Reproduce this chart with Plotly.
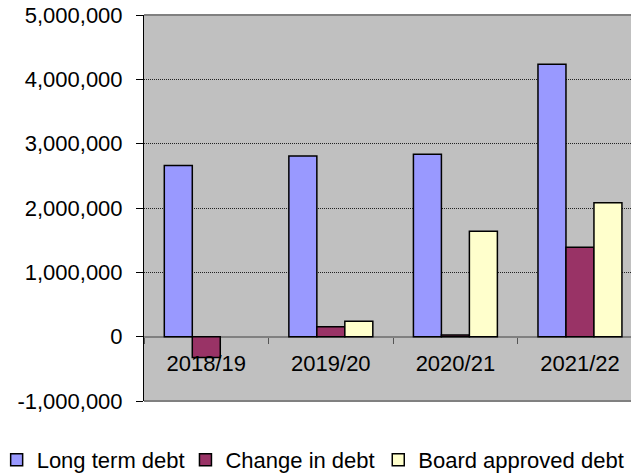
import plotly.graph_objects as go

categories = ["2018/19", "2019/20", "2020/21", "2021/22"]
long_term_debt = [2660000, 2810000, 2835000, 4235000]
change_in_debt = [-325000, 155000, 25000, 1390000]
board_approved_debt = [None, 238000, 1640000, 2080000]

y_tick_values = [-1000000, 0, 1000000, 2000000, 3000000, 4000000, 5000000]
y_tick_labels = ["-1,000,000", "0", "1,000,000", "2,000,000", "3,000,000", "4,000,000", "5,000,000"]

FONT = "Arial, Liberation Sans, sans-serif"
line = dict(color="#000000", width=1.5)

fig = go.Figure()
fig.add_trace(go.Bar(name="Long term debt", x=categories, y=long_term_debt,
                     marker=dict(color="#9999FF", line=line), legend="legend"))
fig.add_trace(go.Bar(name="Change in debt", x=categories, y=change_in_debt,
                     marker=dict(color="#993366", line=line), legend="legend2"))
fig.add_trace(go.Bar(name="Board approved debt", x=categories, y=board_approved_debt,
                     marker=dict(color="#FFFFCC", line=line), legend="legend3"))

# the page body adds an 8px offset; the figure is sized to end at the window edge
W, H = 631, 468
PL = 135.5
PW = W - PL


def legend_at(px):
    return dict(orientation="h", x=(px - PL) / PW, xanchor="left", y=-0.153, yanchor="middle",
                font=dict(family=FONT, size=22, color="#000000"),
                bgcolor="rgba(0,0,0,0)")


fig.update_layout(
    width=W, height=H,
    margin=dict(l=PL, r=0, t=7, b=75, autoexpand=False),
    paper_bgcolor="white", plot_bgcolor="#C0C0C0",
    barmode="group", bargap=0.326, bargroupgap=0,
    font=dict(family=FONT, size=22, color="#000000"),
    hovermode=False,
    showlegend=True,
    legend=legend_at(-12),
    legend2=legend_at(177),
    legend3=legend_at(370),
    xaxis=dict(type="category", range=[-0.5, 3.474], anchor="free", position=1/6,
               automargin=False,
               showline=False, showgrid=False, zeroline=False,
               ticks="outside", tickson="boundaries", ticklen=6, tickcolor="#555555",
               tickwidth=1, tickfont=dict(family=FONT, size=22), ticklabelstandoff=11),
    yaxis=dict(range=[-1000000, 5000000], tickvals=y_tick_values, ticktext=y_tick_labels,
               automargin=False, ticklabeloverflow="allow",
               showline=True, linecolor="#000000", linewidth=1,
               ticks="outside", ticklen=7, tickcolor="#000000",
               showgrid=True, gridcolor="#222222", gridwidth=1, griddash="1px,1px",
               zeroline=True, zerolinecolor="#808080", zerolinewidth=2,
               tickfont=dict(family=FONT, size=22), ticklabelstandoff=9),
    shapes=[
        dict(type="line", xref="paper", yref="paper", x0=0, x1=1, y0=1, y1=1,
             line=dict(color="#808080", width=2), layer="above"),
        dict(type="line", xref="paper", yref="paper", x0=0, x1=1, y0=0, y1=0,
             line=dict(color="#808080", width=2), layer="above"),
    ],
)

fig.write_html("out.html")
